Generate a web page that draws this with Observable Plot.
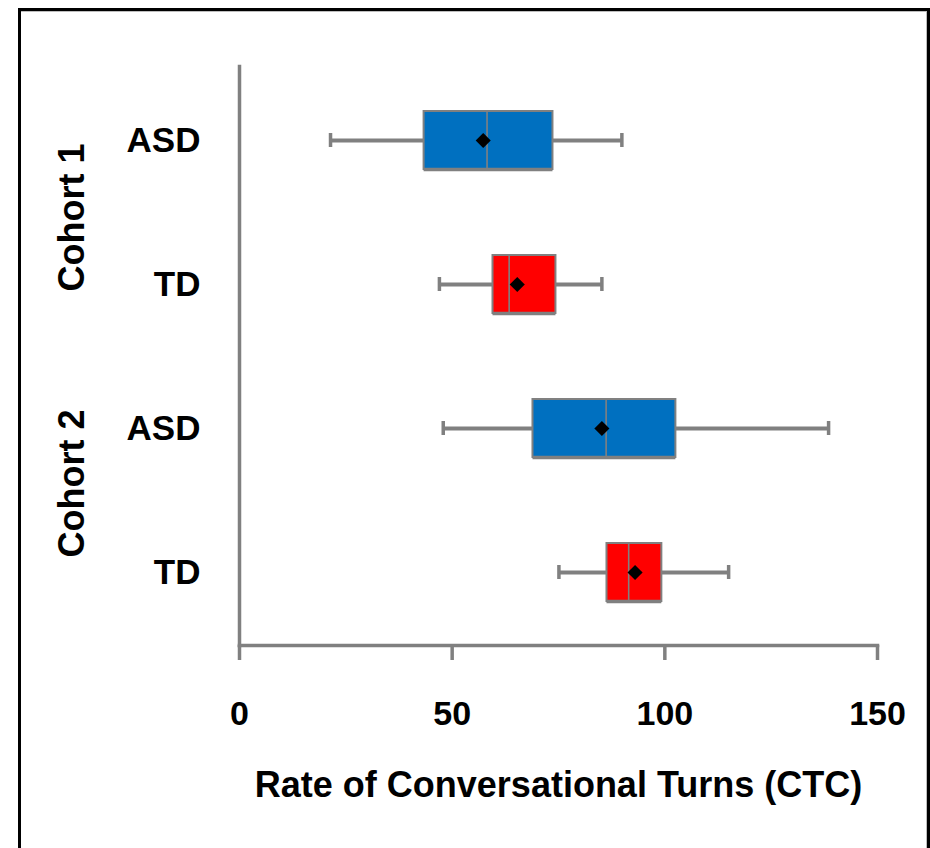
<!DOCTYPE html>
<html>
<head>
<meta charset="utf-8">
<script src="https://cdn.jsdelivr.net/npm/d3@7"></script>
<script src="https://cdn.jsdelivr.net/npm/@observablehq/plot@0.6"></script>
<style>
  html, body { margin: 0; padding: 0; background: #fff; overflow: hidden; width: 930px; height: 848px; }
  #border { position: absolute; left: 18px; top: 8px; width: 906px; height: 900px; border: 3px solid #000; box-sizing: content-box; }
  #inner { position: absolute; left: 21px; top: 11px; width: 905px; height: 900px; border-top: 1px solid #bdbdbd; border-right: 1px solid #bdbdbd; }
  #chart { position: absolute; left: 0; top: 0; }
  #chart svg { font-family: "Liberation Sans", Arial, sans-serif; font-weight: bold; }
</style>
</head>
<body>
<div id="border"></div>
<div id="inner"></div>
<div id="chart"></div>
<script>
const groups = ["c1-ASD", "c1-TD", "c2-ASD", "c2-TD"];
const groupLabels = ["ASD", "TD", "ASD", "TD"];
const fills = ["#0070C0", "#FF0000", "#0070C0", "#FF0000"];
const mins = [21.4, 47.0, 47.9, 75.1];
const q1s = [43.4, 59.6, 69.0, 86.4];
const medians = [58.2, 63.4, 86.2, 91.5];
const q3s = [73.7, 74.4, 102.6, 99.3];
const maxs = [89.9, 85.2, 138.5, 115.0];
const means = [57.3, 65.3, 85.2, 93.0];
const xTicks = [0, 50, 100, 150];
const xTitle = "Rate of Conversational Turns (CTC)";

const data = groups.map((g, i) => ({
  group: g, label: groupLabels[i], fill: fills[i],
  min: mins[i], q1: q1s[i], median: medians[i], q3: q3s[i], max: maxs[i], mean: means[i]
}));
const labelOf = Object.fromEntries(groups.map((g, i) => [g, groupLabels[i]]));

const gray = "#808080";
const boxInset = 43;
const capInset = 65;

const chart = Plot.plot({
  width: 930,
  height: 848,
  marginLeft: 239,
  marginRight: 53,
  marginTop: 66,
  marginBottom: 203,
  x: { domain: [0, 150] },
  y: { domain: groups, padding: 0, axis: null },
  marks: [
    Plot.frame({ anchor: "left", stroke: gray, strokeWidth: 3.5 }),
    Plot.frame({ anchor: "bottom", stroke: gray, strokeWidth: 3.5 }),
    Plot.axisX({ ticks: xTicks, tickSize: 15, tickPadding: 40, stroke: gray, strokeWidth: 3.5, fontSize: 34, fill: "#000", label: null }),
    Plot.axisY({ tickSize: 0, tickPadding: 39, fontSize: 35, fill: "#000", tickFormat: d => labelOf[d], label: null }),
    Plot.ruleY(data, { y: "group", x1: "min", x2: "max", stroke: gray, strokeWidth: 4 }),
    Plot.tickX(data, { y: "group", x: "min", stroke: gray, strokeWidth: 3.5, insetTop: capInset, insetBottom: capInset }),
    Plot.tickX(data, { y: "group", x: "max", stroke: gray, strokeWidth: 3.5, insetTop: capInset, insetBottom: capInset }),
    Plot.barX(data, { y: "group", x1: "q1", x2: "q3", fill: "fill", stroke: gray, strokeWidth: 2, insetTop: boxInset, insetBottom: boxInset }),
    Plot.ruleY(data, { y: "group", x1: "q1", x2: "q3", dy: 29, stroke: gray, strokeWidth: 3.5 }),
    Plot.tickX(data, { y: "group", x: "median", stroke: gray, strokeWidth: 1.6, insetTop: boxInset + 1, insetBottom: boxInset + 1 }),
    Plot.dot(data, { y: "group", x: "mean", symbol: "diamond2", r: 6.8, fill: "#000", stroke: null }),
    Plot.text(["Cohort 1"], { y: ["c1-ASD"], frameAnchor: "left", textAnchor: "middle", lineAnchor: "middle", dx: -167, dy: 77, rotate: -90, fontSize: 36, fill: "#000", text: d => d }),
    Plot.text(["Cohort 2"], { y: ["c2-ASD"], frameAnchor: "left", textAnchor: "middle", lineAnchor: "middle", dx: -167, dy: 55, rotate: -90, fontSize: 36, fill: "#000", text: d => d }),
    Plot.text([xTitle], { frameAnchor: "bottom", dy: 151, fontSize: 36, fill: "#000", text: d => d })
  ]
});
document.getElementById("chart").appendChild(chart);
</script>
</body>
</html>
